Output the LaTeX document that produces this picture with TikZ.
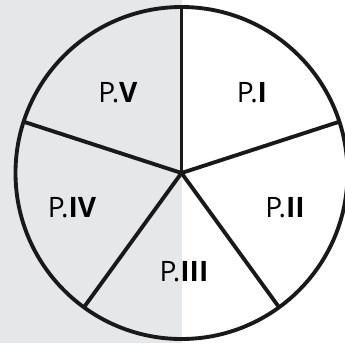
\documentclass[tikz,border=0pt]{standalone}
\usepackage{fontspec}
\setsansfont{Open Sans}
\usepackage{xcolor}
\usepackage{tikz}
\usetikzlibrary{positioning,calc}
\definecolor{leftgray}{HTML}{E6E7E8}

\begin{document}
\begin{tikzpicture}[x=0.02cm,y=0.02cm,
    part/.style={font=\sffamily\fontsize{16}{18}\selectfont, inner sep=0pt},
    rim/.style={line width=2.2pt, black!90}]
    \useasboundingbox (0,0) rectangle (345,343);
    % grey background on the left half
    \fill[leftgray] (0,0) rectangle (181.5,343);
    \coordinate (o) at (181.5,170);
    % spokes
    \foreach \ang/\nm in {90/a,18/b,-54/c,-126/d,162/e}{
        \coordinate (\nm) at ($(o)+(\ang:166)$);
        \draw[rim] (o) -- (\nm);
    }
    \draw[rim] (o) circle[radius=166];
    % labels
    \node[part] (p1) at (252,250) {P.\textbf{I}};
    \node[part] (p2) at (285,135) {P.\textbf{II}};
    \node[part] (p3) at (184,71) {P.\textbf{III}};
    \node[part] (p4) at (72,135) {P.\textbf{IV}};
    \node[part] (p5) at (118,250) {P.\textbf{V}};
\end{tikzpicture}
\end{document}
